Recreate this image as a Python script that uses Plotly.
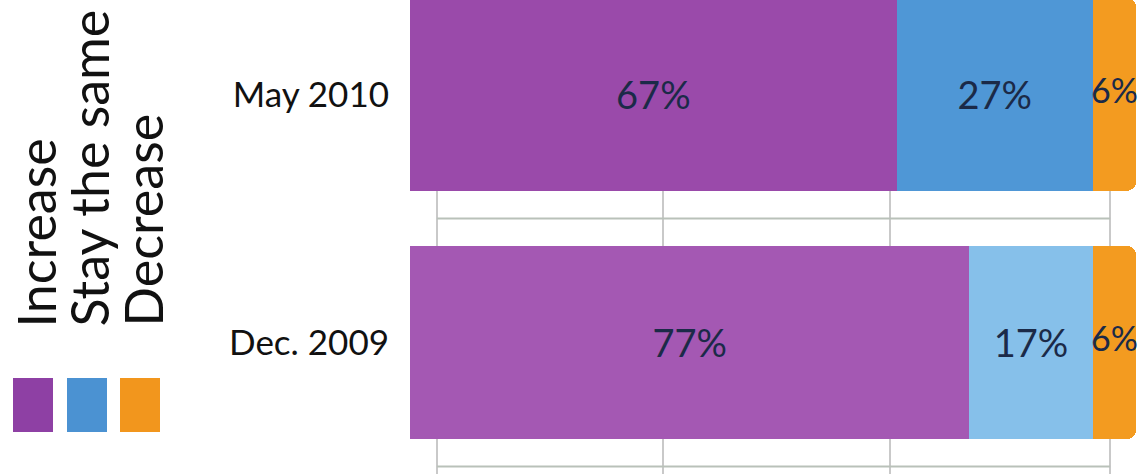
import plotly.graph_objects as go

# ---- data ----
categories = ["May 2010", "Dec. 2009"]
series_names = ["Increase", "Stay the same", "Decrease"]
increase = [67, 77]
stay_same = [27, 17]
decrease = [6, 6]

# ---- styling ----
W, H = 1140, 474
ML, MR, MT, MB = 410, 0, 0, 0
PW, PH = W - ML - MR, H - MT - MB
FONT = "Lato"
TEXT_COL = "#1b2a48"
purple_cols = ["#9a4aaa", "#a458b3"]
blue_cols = ["#4f97d6", "#86c0ea"]
orange_cols = ["#f39b20", "#f39b20"]
legend_cols = ["#8e40a4", "#4b92d2", "#f2961d"]
GRID_X = [3.7, 34.8, 66.1, 96.4]

# numeric positions for the categories (top to bottom)
y_pos = list(range(len(categories)))[::-1]
boundaries = [p - 0.5 for p in sorted(y_pos)]


def px_x(px):
    return (px - ML) / PW


def px_y(py):
    return 1 - (py - MT) / PH


fig = go.Figure()

# horizontal grid lines between / below the bars (drawn as a line trace)
for b in boundaries:
    fig.add_trace(go.Scatter(
        x=[GRID_X[0], GRID_X[-1]], y=[b, b], mode="lines",
        line=dict(color="#b9c1b9", width=2),
        showlegend=False, hoverinfo="skip",
    ))

for vals, name, cols, show_text in [
    (increase, series_names[0], purple_cols, True),
    (stay_same, series_names[1], blue_cols, True),
    (decrease, series_names[2], orange_cols, False),
]:
    fig.add_trace(go.Bar(
        y=y_pos, x=vals, name=name, orientation="h",
        marker=dict(color=cols, line=dict(width=0)),
        text=[f"{v}%" for v in vals],
        textposition="inside" if show_text else "none",
        insidetextanchor="middle", textangle=0,
        textfont=dict(family=FONT, size=38, color=TEXT_COL),
        width=0.78, showlegend=False,
    ))

# labels of the thin last segment (overflowing the segment like in the source)
dec_centers = [a + b + c / 2 for a, b, c in zip(increase, stay_same, decrease)]
fig.add_trace(go.Scatter(
    x=dec_centers, y=y_pos, mode="text",
    text=[f"{v}%" for v in decrease], textposition="middle center",
    textfont=dict(family=FONT, size=34, color=TEXT_COL),
    cliponaxis=False, showlegend=False, hoverinfo="skip",
))

# custom rotated legend
legend_x = [35, 88, 142]
square_x = [(13, 53), (67, 107), (120, 160)]
annotations = []
shapes = []
for i, name in enumerate(series_names):
    annotations.append(dict(
        text=name, textangle=-90, xref="paper", yref="paper",
        x=px_x(legend_x[i]), y=px_y(329), xanchor="center", yanchor="bottom",
        showarrow=False, font=dict(family=FONT, size=52, color="#111111"),
    ))
    x0, x1 = square_x[i]
    shapes.append(dict(
        type="rect", xref="paper", yref="paper",
        x0=px_x(x0), x1=px_x(x1), y0=px_y(432), y1=px_y(378),
        fillcolor=legend_cols[i], line=dict(width=0), layer="above",
    ))

fig.update_layout(
    width=W, height=H, barmode="stack", barcornerradius=10,
    margin=dict(l=ML, r=MR, t=MT, b=MB),
    paper_bgcolor="white", plot_bgcolor="white",
    xaxis=dict(range=[0, 100.5], tickvals=GRID_X, showticklabels=False,
               showgrid=True, gridcolor="#c9c9c9", gridwidth=1.5,
               zeroline=False, showline=False, ticks=""),
    yaxis=dict(range=[-0.53, 1.38], tickvals=y_pos, ticktext=categories,
               showgrid=False, zeroline=False, ticks="",
               ticklabelstandoff=20,
               tickfont=dict(family=FONT, size=35, color="#111111")),
    annotations=annotations, shapes=shapes,
)

fig.write_html("out.html")
